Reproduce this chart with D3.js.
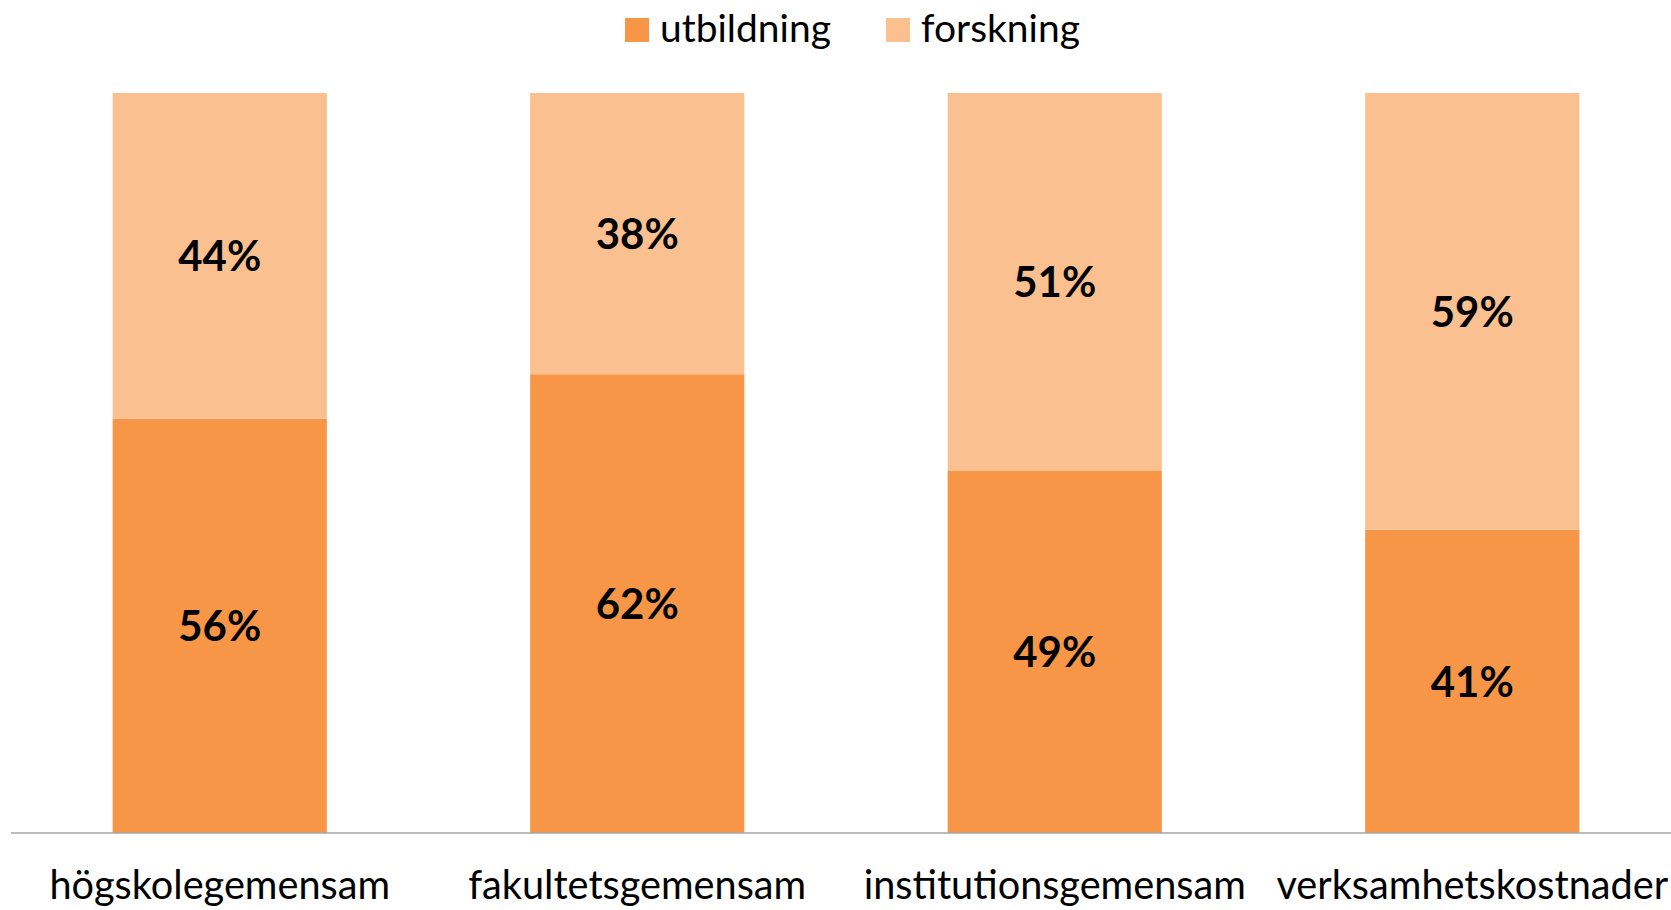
<!DOCTYPE html>
<html>
<head>
<meta charset="utf-8">
<script src="https://cdn.jsdelivr.net/npm/d3@7"></script>
<style>
  html, body { margin: 0; padding: 0; background: #fff; }
  svg { display: block; }
  text { font-family: Lato, "Open Sans", sans-serif; fill: #000; }
</style>
</head>
<body>
<svg id="chart" width="1671" height="910"></svg>
<script>
const categories = ["högskolegemensam", "fakultetsgemensam", "institutionsgemensam", "verksamhetskostnader"];
const seriesNames = ["utbildning", "forskning"];
const utbildning = [56, 62, 49, 41];
const forskning = [44, 38, 51, 59];
const colors = ["#F79646", "#FAC090"];

const W = 1671, H = 910;
const svg = d3.select("#chart");

const plotLeft = 11, plotRight = 1681, plotTop = 93, plotBottom = 833;

const x = d3.scaleBand().domain(categories).range([plotLeft, plotRight]).paddingInner(0.487).paddingOuter(0.2435);
const y = d3.scaleLinear().domain([0, 100]).range([plotBottom, plotTop]);

const rows = categories.map((c, i) => ({ cat: c, utbildning: utbildning[i], forskning: forskning[i] }));
const stacked = d3.stack().keys(seriesNames)(rows);

function fitSize(str, weight, target) {
  const t = svg.append("text").attr("font-size", 100).attr("font-weight", weight).text(str);
  const w = t.node().getComputedTextLength();
  t.remove();
  return 100 * target / w;
}
const catSize = fitSize("fakultetsgemensam", "normal", 338);
const lblSize = fitSize("44%", "bold", 83);
const legSize = fitSize("utbildning", "normal", 171);

const layers = svg.append("g").selectAll("g").data(stacked).join("g")
  .attr("fill", (d, i) => colors[i]);

layers.selectAll("rect").data(d => d).join("rect")
  .attr("x", d => x(d.data.cat))
  .attr("width", x.bandwidth())
  .attr("y", d => y(d[1]))
  .attr("height", d => y(d[0]) - y(d[1]));

layers.selectAll("text").data(d => d.map(v => ({ v, key: d.key }))).join("text")
  .attr("x", d => x(d.v.data.cat) + x.bandwidth() / 2)
  .attr("y", d => (y(d.v[0]) + y(d.v[1])) / 2)
  .attr("dy", "0.37em")
  .attr("text-anchor", "middle")
  .attr("font-weight", "bold")
  .attr("font-size", lblSize)
  .style("fill", "#000")
  .text(d => d.v.data[d.key] + "%");

const xAxis = d3.axisBottom(x).tickSize(0).tickPadding(0);
const gx = svg.append("g").attr("transform", `translate(0,${plotBottom})`).call(xAxis);
gx.select(".domain").attr("stroke", "#a6a6a6").attr("stroke-width", 1.5).attr("d", `M${plotLeft},0H${plotRight}`);
gx.selectAll(".tick text")
  .attr("font-family", "Lato, 'Open Sans', sans-serif")
  .attr("font-size", catSize)
  .attr("fill", "#000")
  .attr("dy", null)
  .attr("y", 66);

const legendX = [625, 886];
const leg = svg.append("g").selectAll("g").data(seriesNames).join("g")
  .attr("transform", (d, i) => `translate(${legendX[i]},18)`);
leg.append("rect").attr("width", 24).attr("height", 24).attr("fill", (d, i) => colors[i]);
leg.append("text").attr("x", 35).attr("y", 24).attr("font-size", legSize).text(d => d);
</script>
</body>
</html>
